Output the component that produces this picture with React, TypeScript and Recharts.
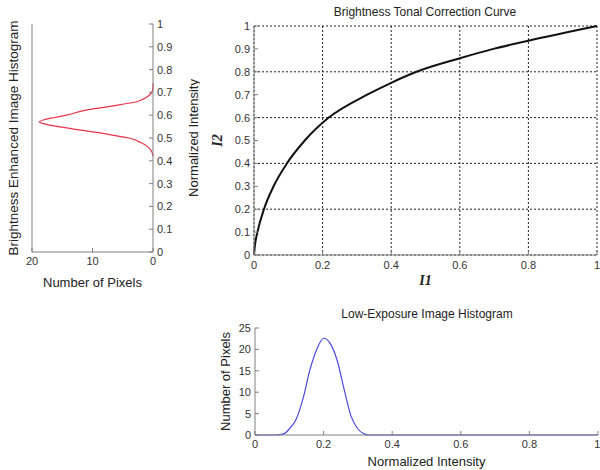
import { LineChart, Line, XAxis, YAxis, CartesianGrid } from 'recharts';

// tonal correction curve (I1 -> I2)
const curveI1 = [0, 0.003, 0.01, 0.029, 0.057, 0.096, 0.148, 0.218, 0.33, 0.4, 0.474, 0.6, 0.698, 0.8, 1];
const curveI2 = [0, 0.045, 0.1, 0.2, 0.3, 0.4, 0.5, 0.6, 0.7, 0.752, 0.8, 0.859, 0.9, 0.936, 1];

// brightness enhanced histogram (left, sideways)
const brightIntensity = [0.42, 0.44, 0.46, 0.48, 0.5, 0.52, 0.54, 0.56, 0.57, 0.58, 0.59, 0.6, 0.62, 0.64, 0.66, 0.68, 0.7, 0.72, 0.74];
const brightPixels = [0, 0.2, 0.8, 2, 4, 8.3, 13.3, 17.6, 18.8, 18, 16.3, 14.3, 11.5, 6.8, 2.6, 1, 0.2, 0, 0];

// low exposure histogram (bottom)
const lowIntensity = [0, 0.06, 0.08, 0.09, 0.1, 0.12, 0.14, 0.16, 0.18, 0.2, 0.22, 0.24, 0.26, 0.28, 0.3, 0.32, 0.33, 1];
const lowPixels = [0, 0, 0.2, 0.6, 1.4, 3.7, 8.5, 15.2, 20, 22.6, 21.3, 17.3, 10.6, 4.4, 1.4, 0.2, 0, 0];

const unitTicks = [0, 0.2, 0.4, 0.6, 0.8, 1];
const tenthTicks = [0, 0.1, 0.2, 0.3, 0.4, 0.5, 0.6, 0.7, 0.8, 0.9, 1];
const pixelTicksLeft = [0, 10, 20];
const pixelTicksLow = [0, 5, 10, 15, 20, 25];

const axisColor = '#808080';
const tickStyle = { fill: '#333', fontSize: 11 };
const labelStyle = { fill: '#222', fontSize: 13 };
const serifLabel = { fill: '#222', fontSize: 14, fontFamily: '"Liberation Serif", serif', fontStyle: 'italic', fontWeight: 'bold' };

export default function App() {
    const curveData = curveI1.map((x, i) => ({ x, y: curveI2[i] }));
    const brightData = brightIntensity.map((v, i) => ({ v, n: brightPixels[i] }));
    const lowData = lowIntensity.map((v, i) => ({ v, n: lowPixels[i] }));

    return (
        <div style={{ position: 'absolute', left: 0, top: 0, width: 600, height: 470, background: '#fff', fontFamily: '"Liberation Sans", Arial, sans-serif' }}>
            {/* left: brightness enhanced histogram */}
            <div style={{ position: 'absolute', left: 0, top: 0 }}>
                <LineChart width={200} height={300} data={brightData} layout="vertical"
                    margin={{ top: 24, right: 0, bottom: 0, left: 0 }}>
                    <XAxis type="number" dataKey="n" domain={[0, 20]} ticks={pixelTicksLeft} reversed
                        height={48} stroke={axisColor} tick={tickStyle} tickSize={-4} tickMargin={9}
                        label={{ value: 'Number of Pixels', position: 'insideBottom', offset: 13, style: labelStyle }} />
                    <YAxis yAxisId="l" type="number" dataKey="v" domain={[0, 1]} ticks={tenthTicks} reversed
                        width={32} stroke={axisColor} tick={false} tickLine={false}
                        label={{ value: 'Brightness Enhanced Image Histogram', angle: -90, position: 'insideLeft', offset: 13, style: { ...labelStyle, fontSize: 13.5, textAnchor: 'middle' } }} />
                    <YAxis yAxisId="r" orientation="right" type="number" dataKey="v" domain={[0, 1]} ticks={tenthTicks} reversed
                        width={47} stroke={axisColor} tick={tickStyle} tickSize={-4} tickMargin={8}
                        label={{ value: 'Normalized Intensity', angle: -90, position: 'insideRight', offset: 7, style: { ...labelStyle, textAnchor: 'middle' } }} />
                    <Line yAxisId="r" type="monotone" dataKey="n" stroke="#e8334a" strokeWidth={1.2} dot={false} isAnimationActive={false} />
                </LineChart>
            </div>

            {/* top right: tonal correction curve */}
            <div style={{ position: 'absolute', left: 425 - 150, top: 5, width: 300, textAlign: 'center', fontSize: 12, color: '#222' }}>
                Brightness Tonal Correction Curve
            </div>
            <div style={{ position: 'absolute', left: 200, top: 0 }}>
                <LineChart width={400} height={290} data={curveData}
                    margin={{ top: 26, right: 3, bottom: 0, left: 0 }}>
                    <CartesianGrid stroke="#222" strokeDasharray="2 2" horizontalValues={tenthTicks} verticalValues={unitTicks} />
                    <XAxis type="number" dataKey="x" domain={[0, 1]} ticks={unitTicks} height={35}
                        stroke={axisColor} tick={tickStyle} tickSize={-4} tickMargin={10}
                        label={{ value: 'I1', position: 'insideBottom', offset: 5, style: serifLabel }} />
                    <XAxis xAxisId="t" orientation="top" type="number" domain={[0, 1]} ticks={unitTicks} height={0}
                        stroke={axisColor} tick={false} tickLine={false} />
                    <YAxis type="number" domain={[0, 1]} ticks={tenthTicks} width={54}
                        stroke={axisColor} tick={tickStyle} tickSize={-4} tickMargin={8}
                        label={{ value: 'I2', angle: -90, position: 'insideLeft', offset: 17, style: { ...serifLabel, textAnchor: 'middle' } }} />
                    <YAxis yAxisId="r" orientation="right" type="number" domain={[0, 1]} ticks={tenthTicks} width={0}
                        stroke={axisColor} tick={false} tickLine={false} />
                    <Line type="monotone" dataKey="y" stroke="#111" strokeWidth={2} dot={false} isAnimationActive={false} />
                </LineChart>
            </div>

            {/* bottom right: low exposure histogram */}
            <div style={{ position: 'absolute', left: 427 - 150, top: 307, width: 300, textAlign: 'center', fontSize: 12, color: '#222' }}>
                Low-Exposure Image Histogram
            </div>
            <div style={{ position: 'absolute', left: 200, top: 300 }}>
                <LineChart width={400} height={170} data={lowData}
                    margin={{ top: 28, right: 2, bottom: 0, left: 0 }}>
                    <XAxis type="number" dataKey="v" domain={[0, 1]} ticks={unitTicks} height={35}
                        stroke={axisColor} tick={tickStyle} tickSize={-4} tickMargin={9}
                        label={{ value: 'Normalized Intensity', position: 'insideBottom', offset: 4, style: labelStyle }} />
                    <XAxis xAxisId="t" orientation="top" type="number" domain={[0, 1]} ticks={unitTicks} height={0}
                        stroke={axisColor} tick={false} tickSize={-4} />
                    <YAxis type="number" domain={[0, 25]} ticks={pixelTicksLow} width={55}
                        stroke={axisColor} tick={tickStyle} tickSize={-4} tickMargin={8}
                        label={{ value: 'Number of Pixels', angle: -90, position: 'insideLeft', offset: 25, style: { ...labelStyle, textAnchor: 'middle' } }} />
                    <YAxis yAxisId="r" orientation="right" type="number" domain={[0, 25]} ticks={pixelTicksLow} width={0}
                        stroke={axisColor} tick={false} tickSize={-4} />
                    <Line type="monotone" dataKey="n" stroke="#4a4ae0" strokeWidth={1.2} dot={false} isAnimationActive={false} />
                </LineChart>
            </div>
        </div>
    );
}
